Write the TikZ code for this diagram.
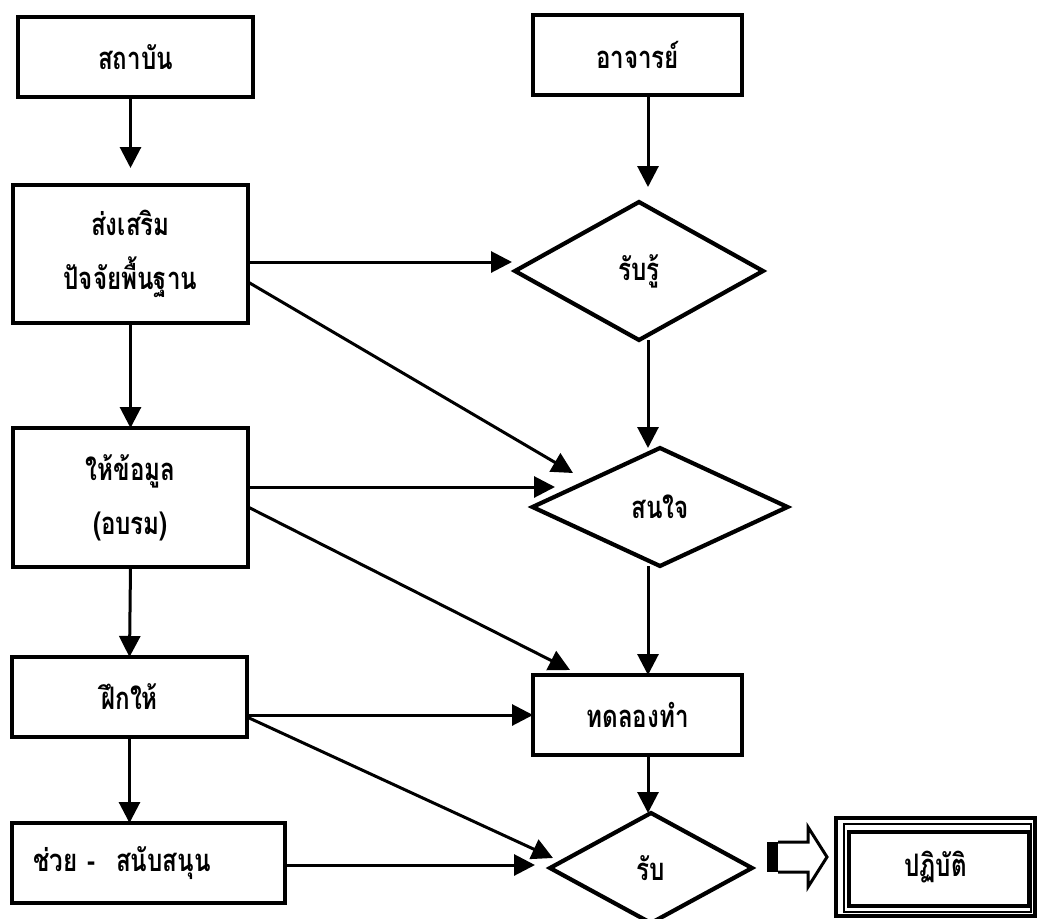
\documentclass[tikz,border=0pt]{standalone}
\usepackage{fontspec}
\newfontfamily\thaifont[Script=Thai,FakeStretch=0.78]{Loma}
\usetikzlibrary{shapes.geometric,arrows.meta,calc}
\begin{document}
\begin{tikzpicture}[x=1pt,y=-1pt,
  every node/.style={font=\thaifont\bfseries\fontsize{31}{54}\selectfont, outer sep=0pt, inner sep=0pt},
  box/.style={draw, line width=4.2pt, align=center},
  dia/.style={draw, diamond, line width=4.2pt, inner sep=0pt},
  arr/.style={line width=3pt, -{Triangle[length=21pt,width=21pt]}},
]
\fill[white] (0,0) rectangle (1037,919);
\useasboundingbox (0,0) rectangle (1037,919);

% left column
\node[box, minimum width=235pt, minimum height=80pt] (n1) at (135.5,57) {สถาบัน};
\node[box, minimum width=235pt, minimum height=138pt] (n2) at (130.5,254) {ส่งเสริม\\ปัจจัยพื้นฐาน};
\node[box, minimum width=235pt, minimum height=139pt] (n3) at (130.5,497.5) {ให้ข้อมูล\\(อบรม)};
\node[box, minimum width=235pt, minimum height=80pt] (n4) at (129.5,697) {ฝึกให้};
\node[box, minimum height=80pt, text width=231pt, inner xsep=21pt, align=left] (n5) at (148.5,863) {ช่วย - \ สนับสนุน};

% right column
\node[box, minimum width=209pt, minimum height=80pt] (r1) at (637.5,55) {อาจารย์};
\node[dia, minimum width=248pt, minimum height=138pt] (d1) at (639,271) {รับรู้};
\node[dia, minimum width=255pt, minimum height=118pt] (d2) at (660,507) {สนใจ};
\node[box, minimum width=209pt, minimum height=80pt] (b6) at (637.5,715) {ทดลองทำ};
\node[dia, minimum width=202pt, minimum height=110pt] (d3) at (651,868) {รับ};

% result box
\node[box, line width=3.5pt, minimum width=199pt, minimum height=98pt] (pb) at (935.5,867) {ปฏิบัติ};
\draw[line width=1.2pt] ([shift={(8pt,-6pt)}]pb.north west) rectangle ([shift={(-4pt,4pt)}]pb.south east);
\draw[line width=3.5pt] ([shift={(13pt,-14pt)}]pb.north west) rectangle ([shift={(-6pt,10pt)}]pb.south east);

% block arrow
\fill (767,842) rectangle (778,872);
\draw[line width=3pt, line join=miter] (778,842) -- (808,842) -- (808,827) -- (827,857) -- (808,887) -- (808,872) -- (778,872);

% left verticals
\coordinate (e1) at ([yshift=17pt]n2.north);
\draw[arr] (n1.south -| n2.north) -- (e1);
\draw[arr] (n2.south) -- (n3.north);
\draw[arr] (n3.south) -- (n4.north);
\draw[arr] (n4.south) -- (n4.south |- n5.north);

% right verticals
\coordinate (vx) at (648,0);
\draw[arr] (r1.south -| vx) -- ([yshift=15pt]d1.north -| vx);
\draw[arr] (d1.south -| vx) -- (d2.north -| vx);
\draw[arr] (d2.south -| vx) -- (b6.north -| vx);
\draw[arr] (b6.south -| vx) -- (d3.north -| vx);

% horizontals and diagonals
\coordinate (s1) at ([yshift=-8pt]n2.east);
\coordinate (t1) at ([xshift=-3pt]d1.west);
\draw[arr] (s1) -- (s1 -| t1);
\draw[arr] ([yshift=-28pt]n2.east) -- ([shift={(-87pt,34pt)}]d2.center);

\coordinate (s3) at ([yshift=10.5pt]n3.east);
\coordinate (t3) at ([xshift=-105pt]d2.center);
\draw[arr] (s3) -- (s3 -| t3);
\draw[arr] ([yshift=-9.5pt]n3.east) -- ([shift={(37pt,5pt)}]b6.north west);

\coordinate (s4) at ([yshift=-18pt]n4.east);
\draw[arr] (s4) -- (s4 -| b6.west);
\draw[arr] ([yshift=-20pt]n4.east) -- ([shift={(-98pt,10pt)}]d3.center);

\coordinate (s5) at ([yshift=-2pt]n5.east);
\coordinate (t5) at ([xshift=-116pt]d3.center);
\draw[arr] (s5) -- (s5 -| t5);
\end{tikzpicture}
\end{document}
